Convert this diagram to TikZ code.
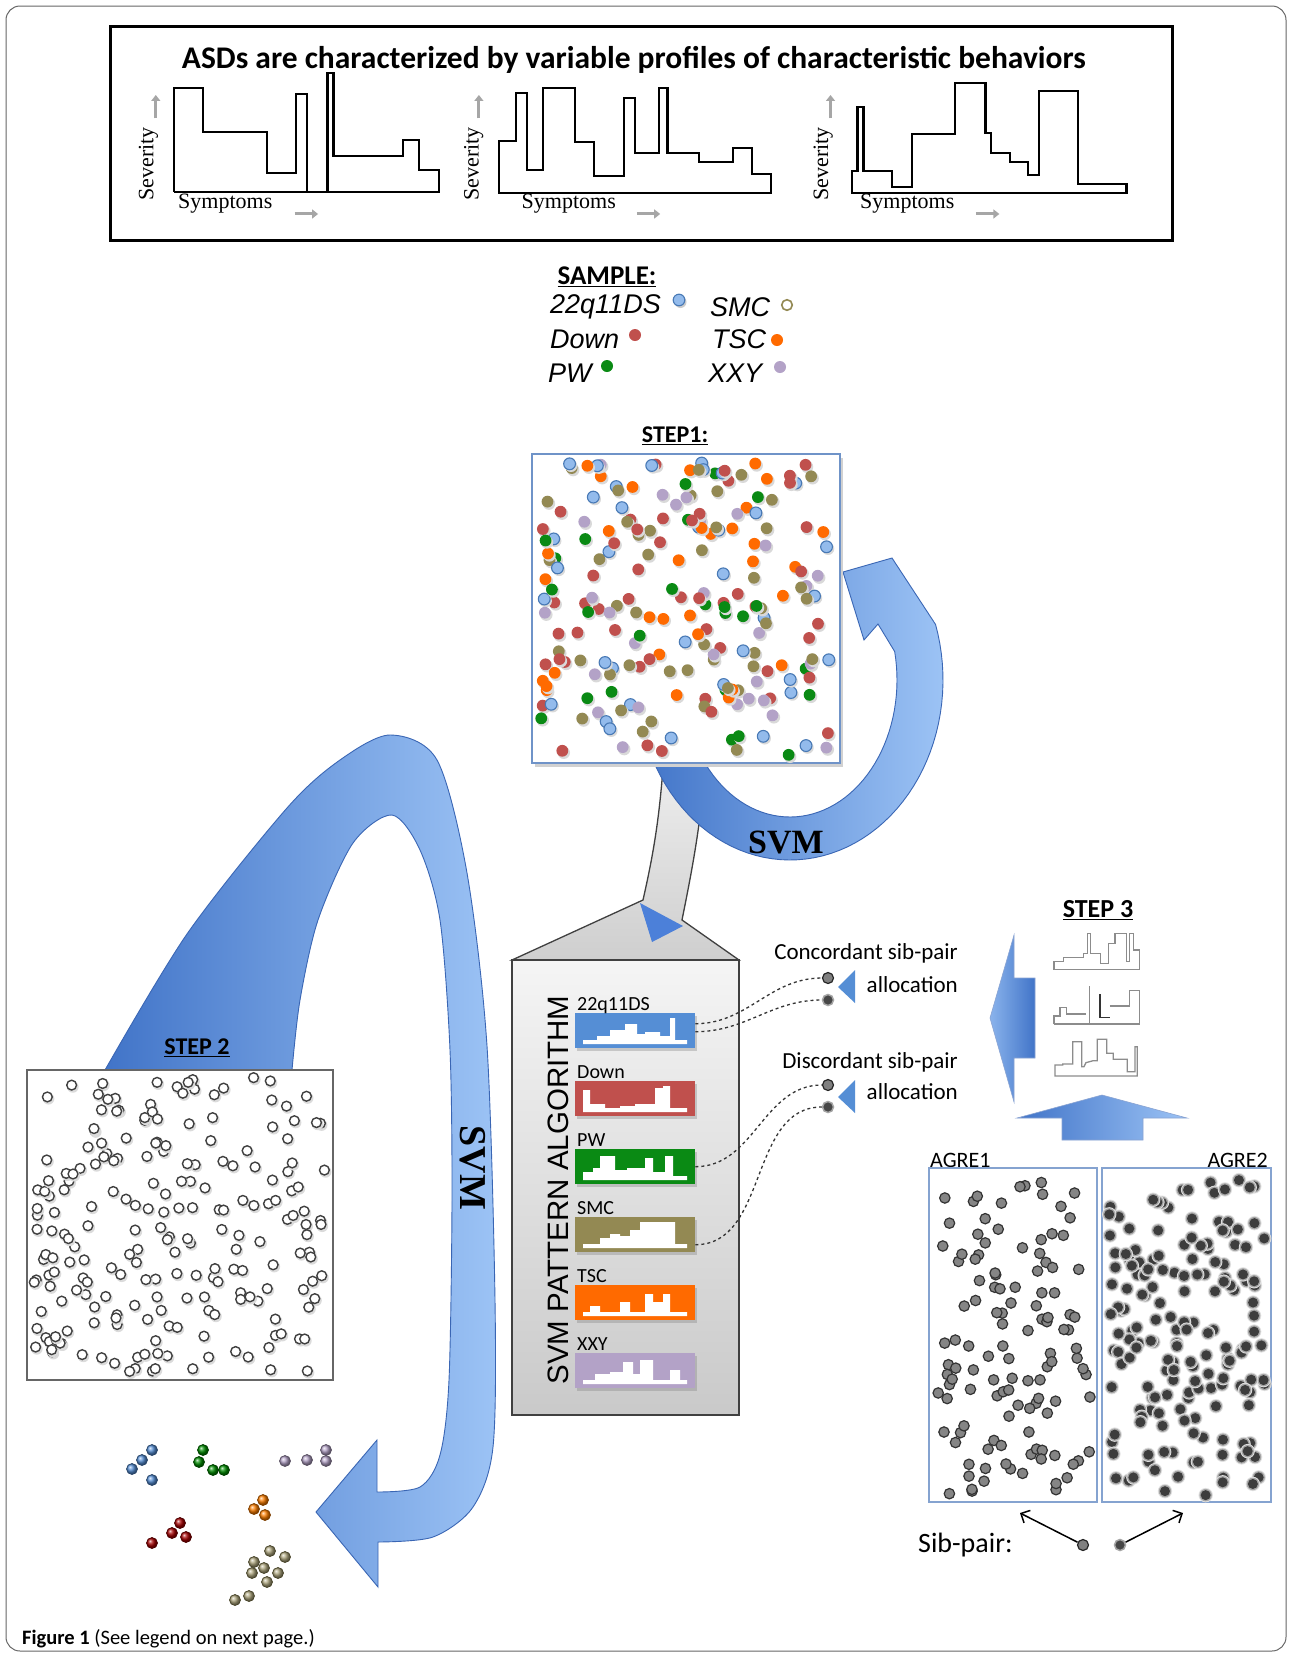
\documentclass[tikz,border=0pt]{standalone}
\usepackage{fontspec}
\setmainfont{Liberation Serif}
\newfontfamily\calf{Carlito}
\newfontfamily\arif{Liberation Sans}
\newfontfamily\tmsf{Liberation Serif}
\usetikzlibrary{arrows.meta,shadows}
\definecolor{bDark}{HTML}{4174C8}
\definecolor{bLight}{HTML}{9CC3F5}
\definecolor{bEdge}{HTML}{3A66B4}
\definecolor{cBlue}{HTML}{558ED5}
\definecolor{cRed}{HTML}{C0504D}
\definecolor{cGreen}{HTML}{0A8A14}
\definecolor{cOlive}{HTML}{938953}
\definecolor{cOrange}{HTML}{FF6A00}
\definecolor{cPurple}{HTML}{B3A2C7}
\definecolor{dBlue}{HTML}{93BBEC}
\definecolor{boxBlue}{HTML}{6F93C8}
\tikzset{
  d0/.style={fill=dBlue, draw=cBlue!85!black, line width=1.1},
  d1/.style={fill=cRed},
  d2/.style={fill=cGreen},
  d3/.style={fill=cOlive},
  d4/.style={fill=cOrange},
  d5/.style={fill=cPurple},
  patbar/.style={minimum width=120, minimum height=35, inner sep=0, anchor=north west,
     drop shadow={opacity=0.35, shadow xshift=1.5pt, shadow yshift=-2.5pt}},
  plabel/.style={font=\calf\fontsize{20}{22}\selectfont, anchor=base west, inner sep=0},
  ringdot/.style={circle, minimum size=11, inner sep=0, fill=black!50, draw=black!85, line width=1.2},
  filldot/.style={circle, minimum size=11, inner sep=0, fill=black!72, draw=black!35, line width=1.5},
  conn/.style={dashed, line width=1.3, black!80},
  bigarrow/.style={left color=bDark, right color=bLight, draw=bEdge, line width=0.9},
  stepttl/.style={font=\calf\bfseries\fontsize{24}{28}\selectfont},
  sidetxt/.style={font=\calf\fontsize{23}{26}\selectfont, anchor=east, inner sep=0},
  prof/.style={line width=2.2, line join=miter},
  sprof/.style={draw=black!45, line width=1.3},
  grayarr/.style={gray!70, line width=3, -{Triangle[length=6pt,width=9pt]}},
}
\newcommand\wprof[3]{\fill[white, shift={(#1,#2)}] (8,31) \foreach \a/\b/\h in {#3}{ -- (\a,{31-\h}) -- (\b,{31-\h}) } -- (112,31) -- cycle;}
\begin{document}
\begin{tikzpicture}[x=1pt,y=-1pt]
\useasboundingbox (0,0) rectangle (1292,1655);
\fill[white] (0,0) rectangle (1292,1655);
% frame
\draw[black!60, line width=1, rounded corners=14] (6,6) rectangle (1286,1651);

% ===== top box =====
\draw[line width=3] (110,26) rectangle (1172,240);
\node[font=\calf\bfseries\fontsize{31.5}{34}\selectfont] (title) at (634,60) {ASDs are characterized by variable profiles of characteristic behaviors};
\begin{scope}[shift={(90,20)}, xscale=0.731, yscale=0.3333]
  \draw[prof] (115,515) -- (115,205) -- (155,205) -- (155,335) -- (242,335) -- (242,458) -- (282,458) -- (282,222) -- (297,222) -- (297,515);
  \draw[prof] (325,515) -- (325,158) -- (333,158) -- (333,408) -- (428,408) -- (428,360) -- (450,360) -- (450,450) -- (477,450) -- (477,515) -- (115,515);
  \draw[prof] (560,520) -- (560,362) -- (583,362) -- (583,218) -- (598,218) -- (598,450) -- (620,450) -- (620,205) -- (663,205) -- (663,365) -- (690,365) -- (690,468) -- (730,468) -- (730,235) -- (745,235) -- (745,400) -- (778,400) -- (778,205) -- (790,205) -- (790,400) -- (833,400) -- (833,425) -- (880,425) -- (880,383) -- (906,383) -- (906,463) -- (932,463) -- (932,520) -- cycle;
  \draw[prof] (1042,520) -- (1042,452) -- (1050,452) -- (1050,260) -- (1058,260) -- (1058,452) -- (1097,452) -- (1097,500) -- (1125,500) -- (1125,342) -- (1183,342) -- (1183,188) -- (1225,188) -- (1225,340) -- (1232,340) -- (1232,400) -- (1258,400) -- (1258,425) -- (1283,425) -- (1283,465) -- (1298,465) -- (1298,213) -- (1352,213) -- (1352,492) -- (1418,492) -- (1418,520) -- cycle;
  \foreach \sx/\ax/\tx/\rx in {80/90/185/280, 525/532/655/748, 1003/1013/1118/1212}{
    \node[rotate=90, font=\tmsf\fontsize{22}{24}\selectfont] at (\sx,432) {Severity};
    \draw[grayarr] (\ax,295) -- (\ax,225);
    \node[font=\tmsf\fontsize{22}{24}\selectfont] at (\tx,552) {Symptoms};
    \draw[grayarr] (\rx,582) -- (\rx+32,582);
  }
\end{scope}

% ===== legend =====
\node[font=\calf\bfseries\fontsize{27}{30}\selectfont] (sample) at (607,277) {\underline{SAMPLE:}};
\begin{scope}[every node/.style={font=\arif\itshape\fontsize{27}{30}\selectfont, anchor=west, inner sep=0}]
  \node (l1) at (550,307) {22q11DS};
  \node (l2) at (550,339) {Down};
  \node (l3) at (548,373) {PW};
  \node (l4) at (710,307) {SMC};
  \node (l5) at (712,339) {TSC};
  \node (l6) at (708,373) {XXY};
\end{scope}
\fill[black!20] (680.5,302) circle (6);
\path[d0] (679,300) circle (5.8);
\fill[cRed] (635,335) circle (6);
\fill[cGreen] (607,366) circle (6);
\draw[cOlive, line width=1.6, fill=white] (787,305) circle (5.3);
\fill[cOrange] (777,340) circle (6);
\fill[cPurple] (780,367) circle (6);

% ===== grey funnel and pattern box =====
\shade[top color=gray!12, bottom color=gray!38, draw=black!75, line width=1.3]
  (512,960) -- (643,900) .. controls (652,860) and (660,820) .. (664,752) -- (706,752) .. controls (702,820) and (692,870) .. (682,920) -- (739,960) -- cycle;
\shade[top color=gray!8, bottom color=gray!42, draw=black!75, line width=1.5] (512,960) rectangle (739,1415);
\fill[cBlue!90!blue] (640,903) -- (683,926) -- (652,942) -- cycle;
\node[rotate=90, anchor=base, inner sep=0, font=\arif\fontsize{29.5}{32}\selectfont] (alg) at (568,1190) {SVM PATTERN ALGORITHM};
\node[patbar, fill=cBlue]   (pb1) at (575,1013) {};
\node[patbar, fill=cRed]    (pb2) at (575,1081) {};
\node[patbar, fill=cGreen]  (pb3) at (575,1149) {};
\node[patbar, fill=cOlive]  (pb4) at (575,1217) {};
\node[patbar, fill=cOrange] (pb5) at (575,1285) {};
\node[patbar, fill=cPurple] (pb6) at (575,1353) {};
\wprof{575}{1013}{8/22/4, 22/35/8, 35/50/14, 50/62/20, 62/70/10, 70/85/12, 85/95/8, 95/100/26, 100/112/4}
\wprof{575}{1081}{8/15/22, 15/30/8, 30/45/4, 45/60/6, 60/80/8, 80/88/24, 88/95/26, 95/112/4}
\wprof{575}{1149}{8/18/8, 18/25/12, 25/40/24, 40/52/10, 52/70/12, 70/78/22, 78/90/8, 90/98/24, 98/112/4}
\wprof{575}{1217}{8/25/4, 25/35/10, 35/45/14, 45/55/12, 55/65/18, 65/100/26, 100/112/4}
\wprof{575}{1285}{8/15/4, 15/25/10, 25/45/4, 45/55/14, 55/70/4, 70/78/22, 78/88/14, 88/95/22, 95/112/4}
\wprof{575}{1353}{8/20/4, 20/35/10, 35/48/12, 48/58/22, 58/65/10, 65/78/24, 78/95/4, 95/105/14, 105/112/4}
\node[plabel] at (577,1010) {22q11DS};
\node[plabel] at (577,1078) {Down};
\node[plabel] at (577,1146) {PW};
\node[plabel] at (577,1214) {SMC};
\node[plabel] at (577,1282) {TSC};
\node[plabel] at (577,1350) {XXY};

% ===== circular SVM arrow =====
\path[bigarrow] plot[domain=170:-18, samples=60] ({790+153*cos(\x)},{680+180*sin(\x)})
   -- (892,558) -- (843,572) -- (864,640) -- (878,624)
   -- plot[domain=-12:170, samples=60] ({790+107*cos(\x)},{680+137*sin(\x)}) -- cycle;
\node[font=\tmsf\bfseries\fontsize{34}{36}\selectfont] (svm1) at (786,842) {SVM};

% ===== step 1 =====
\node[stepttl] (st1) at (675,436) {\underline{STEP1:}};
\fill[black!18] (535,458) rectangle (843,767);
\draw[boxBlue, line width=1.5, fill=white] (532,454) rectangle (840,763);
\pgfmathsetseed{11}
\foreach \i in {1,...,215}{
  \pgfmathsetmacro\px{541+290*rnd}
  \pgfmathsetmacro\py{463+292*rnd}
  \pgfmathtruncatemacro\ci{min(5,int(6*rnd))}
  \fill[black!15] (\px+1.5,\py+2) circle (6.2);
  \path[d\ci] (\px,\py) circle (5.9);
}

% ===== left big arc =====
\path[bigarrow] plot[smooth] coordinates {(105,1070) (187,934) (287,808) (340,760) (390,735) (437,760) (467,873) (487,1046) (495,1300) (493,1447) (473,1507) (433,1537) (378,1542)}
   -- (378,1587) -- (316,1512) -- (377,1440) -- (377,1492)
   -- plot[smooth] coordinates {(377,1492) (420,1487) (440,1455) (449,1380) (452,1200) (450,1050) (440,920) (420,850) (392,815) (353,843) (318,920) (300,1000) (292,1070)} -- cycle;
\node[rotate=-90, font=\tmsf\bfseries\fontsize{38}{40}\selectfont] (svm2) at (473,1168) {SVM};

% ===== step 2 =====
\draw[black!60, line width=1.5, fill=white] (27,1070) rectangle (333,1380);
\node[stepttl] (st2) at (197,1048) {\underline{STEP 2}};
\pgfmathsetseed{23}
\foreach \i in {1,...,215}{
  \pgfmathsetmacro\px{34+292*rnd}
  \pgfmathsetmacro\py{1077+296*rnd}
  \fill[black!14] (\px+1.2,\py+1.8) circle (5.8);
  \draw[black!75, line width=1.4, fill=white] (\px,\py) circle (4.9);
}

% ===== clusters =====
\foreach \x/\y in {152/1450, 142/1460, 132/1469, 152/1480}{\shade[ball color=cBlue] (\x,\y) circle (5.5); \draw[cBlue!50!black, line width=0.7] (\x,\y) circle (5.5);}
\foreach \x/\y in {203/1450, 199/1462, 213/1470, 224/1470}{\shade[ball color=green!55!black] (\x,\y) circle (5.5); \draw[green!25!black, line width=0.7] (\x,\y) circle (5.5);}
\foreach \x/\y in {285/1461, 307/1460, 326/1450, 326/1461}{\shade[ball color=cPurple] (\x,\y) circle (5.5); \draw[cPurple!50!black, line width=0.7] (\x,\y) circle (5.5);}
\foreach \x/\y in {263/1500, 254/1509, 265/1515}{\shade[ball color=orange] (\x,\y) circle (5.5); \draw[orange!50!black, line width=0.7] (\x,\y) circle (5.5);}
\foreach \x/\y in {180/1523, 172/1533, 186/1537, 152/1543}{\shade[ball color=red!65!black] (\x,\y) circle (5.5); \draw[red!30!black, line width=0.7] (\x,\y) circle (5.5);}
\foreach \x/\y in {270/1551, 285/1557, 254/1562, 264/1568, 278/1573, 252/1573, 267/1582, 249/1596, 235/1600}{\shade[ball color=cOlive!75!white] (\x,\y) circle (5.5); \draw[cOlive!50!black, line width=0.7] (\x,\y) circle (5.5);}

% ===== allocation =====
\node[ringdot] (c1) at (828,978) {};
\node[filldot] (c2) at (828,1000) {};
\node[ringdot] (d1) at (828,1085) {};
\node[filldot] (d2) at (828,1107) {};
\draw[conn] ([yshift=7pt]pb1.east) to[out=0,in=180] (c1.west);
\draw[conn] ([yshift=-1pt]pb1.east) to[out=0,in=180] (c2.west);
\draw[conn] (pb3.east) to[out=0,in=180] (d1.west);
\draw[conn] ([yshift=-10pt]pb4.east) to[out=0,in=180] (d2.west);
\fill[cBlue] (838,987) -- (855,970) -- (855,1003) -- cycle;
\fill[cBlue] (838,1097) -- (855,1080) -- (855,1113) -- cycle;
\node[sidetxt] (ct1) at (958,953) {Concordant sib-pair};
\node[sidetxt] (ct2) at (958,985) {allocation};
\node[sidetxt] (dt1) at (958,1062) {Discordant sib-pair};
\node[sidetxt] (dt2) at (958,1092) {allocation};

% ===== step 3 =====
\path[left color=bLight!80!bDark, right color=bDark, draw=bEdge!60, line width=0.6] (990,1018) -- (1014,935) -- (1014,978) -- (1035,978) -- (1035,1058) -- (1014,1058) -- (1014,1102) -- cycle;
\node[stepttl, font=\calf\bfseries\fontsize{26}{28}\selectfont] (st3) at (1098,910) {\underline{STEP 3}};
\begin{scope}[shift={(880,900)}, scale=0.3333]
  \draw[sprof] (522,208) -- (522,185) -- (550,185) -- (550,172) -- (610,172) -- (610,160) -- (622,160) -- (622,100) -- (632,100) -- (632,160) -- (662,160) -- (662,190) -- (685,190) -- (685,130) -- (705,130) -- (705,100) -- (740,100) -- (740,185) -- (748,185) -- (748,100) -- (760,100) -- (760,150) -- (778,150) -- (778,208) -- cycle;
  \draw[sprof] (522,372) -- (522,348) -- (540,348) -- (540,322) -- (560,322) -- (560,342) -- (615,342) -- (615,345) (628,258) -- (628,372) (690,318) -- (748,318) -- (748,272) -- (778,272) -- (778,372) -- (522,372);
  \draw[black!80, line width=1.3] (660,282) -- (660,352) -- (690,352);
  \draw[sprof] (525,528) -- (525,495) -- (548,495) -- (548,492) -- (578,492) -- (578,425) -- (605,425) -- (605,500) -- (612,500) -- (618,488) -- (640,482) -- (652,482) -- (652,418) -- (680,418) -- (680,460) -- (700,460) -- (700,478) -- (742,478) -- (742,515) -- (765,515) -- (765,440) -- (772,440) -- (772,528) -- cycle;
\end{scope}
\path[left color=bDark, right color=bLight, draw=bEdge!60, line width=0.6] (1102,1095) -- (1187,1118) -- (1143,1118) -- (1143,1140) -- (1062,1140) -- (1062,1118) -- (1017,1118) -- cycle;

% ===== AGRE =====
\node[font=\calf\fontsize{22}{24}\selectfont, anchor=base west, inner sep=0] (ag1) at (930,1167) {AGRE1};
\node[font=\calf\fontsize{22}{24}\selectfont, anchor=base east, inner sep=0] (ag2) at (1268,1167) {AGRE2};
\draw[boxBlue!85, line width=1.6] (929,1168) rectangle (1097,1502);
\draw[boxBlue!85, line width=1.6] (1102,1168) rectangle (1271,1502);
\pgfmathsetseed{5}
\foreach \i in {1,...,120}{
  \pgfmathsetmacro\px{936+155*rnd}
  \pgfmathsetmacro\py{1182+312*rnd}
  \draw[black!80, line width=1.2, fill=black!48] (\px,\py) circle (5.2);
}
\pgfmathsetseed{9}
\foreach \i in {1,...,175}{
  \pgfmathsetmacro\px{1109+156*rnd}
  \pgfmathsetmacro\py{1178+318*rnd}
  \fill[black!12] (\px,\py) circle (7.2);
  \fill[black!35] (\px,\py) circle (6.2);
  \fill[black!76] (\px,\py) circle (5);
}

% ===== sib pair =====
\node[font=\calf\fontsize{28}{30}\selectfont, anchor=west, inner sep=0] (sib) at (918,1545) {Sib-pair:};
\node[ringdot] (s1) at (1083,1545) {};
\node[filldot] (s2) at (1120,1545) {};
\coordinate (s1t) at (1020,1513);
\coordinate (s2t) at (1183,1513);
\draw[line width=1.5, -{Straight Barb[length=7pt,width=14pt]}] (s1) -- (s1t);
\draw[line width=1.5, -{Straight Barb[length=7pt,width=14pt]}] (s2) -- (s2t);

% ===== caption =====
\node[anchor=base west, inner sep=0, font=\calf\fontsize{20.5}{24}\selectfont] (cap) at (22,1644) {\textbf{Figure 1} (See legend on next page.)};
\end{tikzpicture}
\end{document}
